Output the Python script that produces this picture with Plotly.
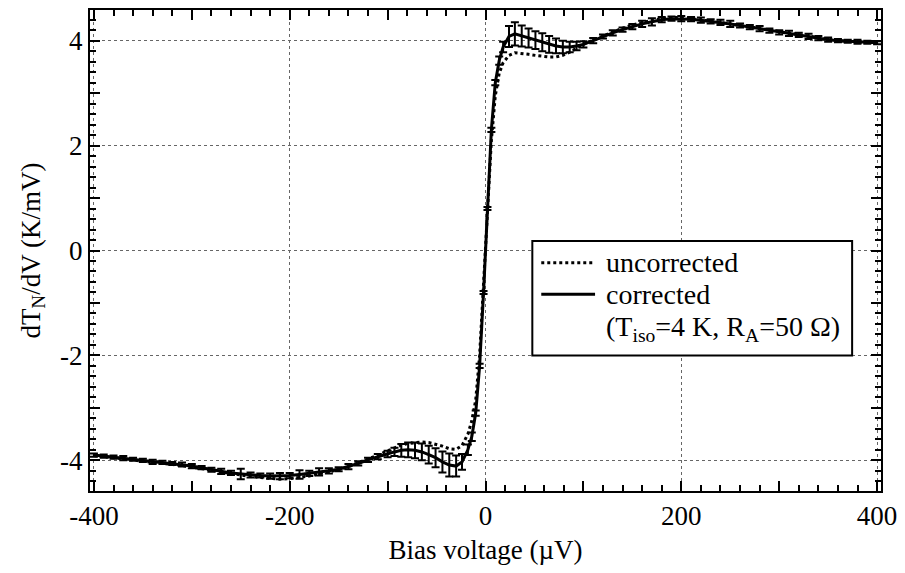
import plotly.graph_objects as go

# Bias voltage grid (µV)
bias = [-400, -390, -380, -370, -360, -350, -340, -330, -320, -310,
        -300, -290, -280, -270, -260, -250, -240, -230, -220, -210,
        -200, -190, -180, -170, -160, -150, -140, -130, -120, -110,
        -100, -93, -86, -79, -72, -65, -58, -51, -44, -37,
        -30, -24, -18, -14, -10, -6, -2, 2, 6, 10,
        14, 18, 24, 30, 37, 44, 51, 58, 65, 72,
        79, 86, 93, 100, 110, 120, 130, 140, 150, 160,
        170, 180, 190, 200, 210, 220, 230, 240, 250, 260,
        270, 280, 290, 300, 310, 320, 330, 340, 350, 360,
        370, 380, 390, 400]

# dT_N/dV (K/mV), corrected for T_iso = 4 K, R_A = 50 Ohm
corrected = [-3.90, -3.92, -3.94, -3.96, -3.98, -4.00, -4.03, -4.04, -4.06, -4.08,
             -4.11, -4.14, -4.18, -4.21, -4.24, -4.26, -4.28, -4.29, -4.30, -4.30,
             -4.29, -4.27, -4.25, -4.22, -4.20, -4.17, -4.12, -4.06, -3.99, -3.93,
             -3.88, -3.84, -3.81, -3.80, -3.81, -3.84, -3.89, -3.95, -4.03, -4.09,
             -4.11, -4.03, -3.80, -3.55, -3.10, -2.20, -0.80, 0.80, 2.30, 3.20,
             3.62, 3.88, 4.08, 4.13, 4.09, 4.05, 4.01, 3.97, 3.93, 3.90,
             3.88, 3.88, 3.90, 3.93, 4.00, 4.08, 4.15, 4.21, 4.27, 4.32,
             4.36, 4.40, 4.42, 4.42, 4.41, 4.39, 4.37, 4.35, 4.32, 4.29,
             4.26, 4.23, 4.19, 4.16, 4.14, 4.11, 4.08, 4.05, 4.02, 4.00,
             3.99, 3.98, 3.97, 3.96]

corrected_err = [0.03, 0.03, 0.03, 0.04, 0.03, 0.03, 0.04, 0.03, 0.03, 0.04,
                 0.04, 0.03, 0.04, 0.05, 0.04, 0.10, 0.05, 0.04, 0.05, 0.06,
                 0.05, 0.08, 0.05, 0.07, 0.05, 0.04, 0.05, 0.04, 0.04, 0.05,
                 0.06, 0.08, 0.12, 0.14, 0.15, 0.16, 0.17, 0.18, 0.20, 0.22,
                 0.20, 0.15, 0.10, 0.08, 0.05, 0.04, 0.03, 0.03, 0.04, 0.05,
                 0.08, 0.10, 0.20, 0.22, 0.20, 0.18, 0.17, 0.17, 0.16, 0.14,
                 0.12, 0.10, 0.08, 0.06, 0.05, 0.04, 0.05, 0.04, 0.05, 0.06,
                 0.07, 0.05, 0.04, 0.05, 0.04, 0.05, 0.04, 0.05, 0.06, 0.04,
                 0.04, 0.05, 0.04, 0.04, 0.05, 0.04, 0.05, 0.04, 0.04, 0.03,
                 0.03, 0.04, 0.03, 0.03]

# dT_N/dV (K/mV) without correction
uncorrected = [-3.91, -3.93, -3.95, -3.97, -3.99, -4.02, -4.04, -4.06, -4.08, -4.10,
               -4.13, -4.16, -4.20, -4.23, -4.26, -4.28, -4.31, -4.33, -4.35, -4.36,
               -4.35, -4.33, -4.30, -4.26, -4.22, -4.18, -4.12, -4.05, -3.98, -3.90,
               -3.82, -3.76, -3.71, -3.68, -3.66, -3.65, -3.66, -3.69, -3.73, -3.78,
               -3.79, -3.72, -3.50, -3.25, -2.85, -2.00, -0.70, 0.75, 2.10, 2.95,
               3.38, 3.58, 3.72, 3.77, 3.76, 3.74, 3.72, 3.70, 3.69, 3.69,
               3.72, 3.78, 3.86, 3.93, 4.01, 4.09, 4.17, 4.24, 4.30, 4.35,
               4.39, 4.42, 4.44, 4.44, 4.42, 4.40, 4.37, 4.35, 4.32, 4.29,
               4.26, 4.23, 4.20, 4.17, 4.14, 4.11, 4.08, 4.05, 4.02, 4.00,
               3.99, 3.98, 3.97, 3.96]

x_tickvals = [-400, -300, -200, -100, 0, 100, 200, 300, 400]
x_ticktext = ["-400", "", "-200", "", "0", "", "200", "", "400"]
y_tickvals = [-4, -3, -2, -1, 0, 1, 2, 3, 4]
y_ticktext = ["-4", "", "-2", "", "0", "", "2", "", "4"]

# legend entries: (label, dash style of the sample line or None)
legend_rows = [
    ("uncorrected", "dot"),
    ("corrected", "solid"),
    ("(T<sub>iso</sub>=4 K, R<sub>A</sub>=50 Ω)", None),
]

FONT = "Liberation Serif"
FS = 27
TXT = dict(family=FONT, size=FS, color="black")

fig = go.Figure()

fig.add_trace(go.Scatter(
    x=bias, y=uncorrected, mode="lines", name="uncorrected",
    line=dict(color="black", width=3, dash="dot"), showlegend=False,
))
fig.add_trace(go.Scatter(
    x=bias, y=corrected, mode="lines", name="corrected",
    line=dict(color="black", width=3), showlegend=False,
    error_y=dict(type="data", array=corrected_err, visible=True,
                 color="black", thickness=2, width=4),
))
# carrier for the dotted grid axes
fig.add_trace(go.Scatter(x=[None], y=[None], xaxis="x2", yaxis="y2",
                         showlegend=False, hoverinfo="skip"))

# boxed key inside the plot area (paper coordinates)
box_x0, box_x1, box_y0, box_y1 = 0.5592, 0.9635, 0.2816, 0.5197
fig.add_shape(type="rect", xref="paper", yref="paper",
              x0=box_x0, x1=box_x1, y0=box_y0, y1=box_y1,
              line=dict(color="black", width=2), fillcolor="white", layer="above")
row_y = [0.4747, 0.4093, 0.3370]
for (label, dash), yy in zip(legend_rows, row_y):
    if dash is not None:
        fig.add_shape(type="line", xref="paper", yref="paper",
                      x0=0.5705, x1=0.6385, y0=yy, y1=yy,
                      line=dict(color="black", width=3, dash=dash), layer="above")
    fig.add_annotation(xref="paper", yref="paper", x=0.6500, y=yy,
                       xanchor="left", yanchor="middle", showarrow=False,
                       text=label, font=dict(family=FONT, size=28, color="black"))

xr = [-404, 404]
yr = [-4.585, 4.585]

fig.update_layout(
    width=905, height=573,
    margin=dict(l=90, r=21, t=8, b=82),
    paper_bgcolor="white", plot_bgcolor="white",
    font=TXT,
    showlegend=False,
    xaxis=dict(
        range=xr, tickmode="array", tickvals=x_tickvals, ticktext=x_ticktext,
        tickfont=TXT,
        ticks="inside", ticklen=10, tickwidth=2, tickcolor="black",
        minor=dict(tickmode="linear", tick0=0, dtick=20, ticks="inside",
                   ticklen=6, tickwidth=1.5, tickcolor="black", showgrid=False),
        showline=True, linewidth=2, linecolor="black", mirror="allticks",
        showgrid=False, zeroline=False,
        title=dict(text="Bias voltage (µV)", font=TXT, standoff=10),
    ),
    yaxis=dict(
        range=yr, tickmode="array", tickvals=y_tickvals, ticktext=y_ticktext,
        tickfont=TXT,
        ticks="inside", ticklen=10, tickwidth=2, tickcolor="black",
        minor=dict(tickmode="linear", tick0=0, dtick=0.2, ticks="inside",
                   ticklen=6, tickwidth=1.5, tickcolor="black", showgrid=False),
        showline=True, linewidth=2, linecolor="black", mirror="allticks",
        showgrid=False, zeroline=False,
        title=dict(text="dT<sub>N</sub>/dV (K/mV)", font=TXT, standoff=12),
    ),
    xaxis2=dict(
        overlaying="x", range=xr, tickmode="linear", tick0=0, dtick=200,
        showgrid=True, griddash="dot", gridcolor="#666", gridwidth=1,
        showticklabels=False, ticks="", showline=False, zeroline=False,
    ),
    yaxis2=dict(
        overlaying="y", range=yr, tickmode="linear", tick0=0, dtick=2,
        showgrid=True, griddash="dot", gridcolor="#666", gridwidth=1,
        showticklabels=False, ticks="", showline=False, zeroline=False,
    ),
)

fig.write_html("out.html")
